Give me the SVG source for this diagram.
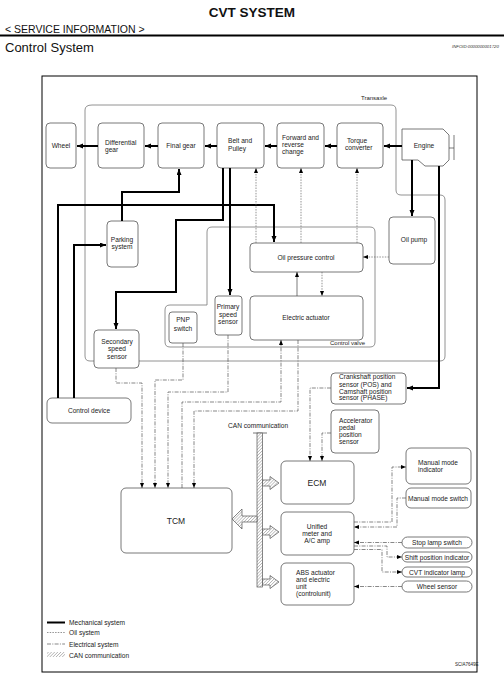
<svg xmlns="http://www.w3.org/2000/svg" width="504" height="680" viewBox="0 0 504 680">
<defs>
<style>
text{font-family:"Liberation Sans",Arial,sans-serif;font-size:6.6px;fill:#222}
.c{text-anchor:middle}
.box{fill:#fff;stroke:#555;stroke-width:0.8}
.outline{fill:none;stroke:#777;stroke-width:0.8}
.mech{fill:none;stroke:#000;stroke-width:2}
.oil{fill:none;stroke:#666;stroke-width:0.7;stroke-dasharray:1.5 1.2}
.elec{fill:none;stroke:#555;stroke-width:0.7;stroke-dasharray:4 1.3 1 1.3}
.thin{fill:none;stroke:#444;stroke-width:0.7}
.can{fill:url(#hatch);stroke:#555;stroke-width:0.7}
</style>
<marker id="ah" markerUnits="userSpaceOnUse" markerWidth="7" markerHeight="6" refX="6" refY="2.5" orient="auto">
<path d="M0,0 L6,2.5 L0,5 Z" fill="#000"/>
</marker>
<marker id="as" markerUnits="userSpaceOnUse" markerWidth="6" markerHeight="5" refX="5" refY="2" orient="auto">
<path d="M0,0 L5,2 L0,4 Z" fill="#000"/>
</marker>
<pattern id="hatch" patternUnits="userSpaceOnUse" width="2.2" height="2.2" patternTransform="rotate(45)">
<rect width="2.2" height="2.2" fill="#fff"/>
<line x1="0" y1="0" x2="0" y2="2.2" stroke="#777" stroke-width="0.8"/>
</pattern>
</defs>
<rect width="504" height="680" fill="#fff"/>

<g id="header">
<text x="252" y="17" class="c" style="font-size:13.5px;font-weight:bold;fill:#111">CVT SYSTEM</text>
<text x="5" y="33" style="font-size:10.5px;fill:#111">&lt; SERVICE INFORMATION &gt;</text>
<rect x="0" y="34.5" width="504" height="2" fill="#000"/>
<text x="5" y="52" style="font-size:13px;fill:#111">Control System</text>
<text x="452" y="48" style="font-size:4.3px;font-style:italic;fill:#333">INFOID:0000000001720</text>
</g>

<rect id="frame" x="42" y="76" width="435" height="596" fill="none" stroke="#000" stroke-width="1"/>

<g id="transaxle">
<path class="outline" d="M92,105 H391 Q396,105 396,110 V190 Q396,195 401,195 H440 Q445,195 445,200 V356 Q445,361 440,361 H90 Q85,361 85,356 V110 Q85,105 92,105 Z"/>
<text x="361" y="100" style="font-size:6px">Transaxle</text>
</g>

<g id="valve-unit">
<path class="outline" d="M212,227 H370 Q375,227 375,232 V342 Q375,347 370,347 H170 Q165,347 165,342 V310 Q165,305 170,305 H207 V232 Q207,227 212,227 Z"/>
<text x="365" y="345" style="font-size:6px;text-anchor:end">Control valve</text>
</g>

<g id="wheel"><rect class="box" x="46" y="123" width="30" height="45" rx="4"/><text x="61" y="148" class="c">Wheel</text></g>
<g id="differential"><rect class="box" x="98" y="123" width="46" height="45" rx="4"/><text x="105" y="145">Differential</text><text x="105" y="152">gear</text></g>
<g id="final-gear"><rect class="box" x="158" y="123" width="46" height="45" rx="4"/><text x="181" y="148" class="c">Final gear</text></g>
<g id="belt-pulley"><rect class="box" x="217" y="123" width="47" height="45" rx="4"/><text x="228" y="143">Belt and</text><text x="228" y="151">Pulley</text></g>
<g id="forward-reverse"><rect class="box" x="277" y="123" width="47" height="45" rx="4"/><text x="282" y="140">Forward and</text><text x="282" y="147">reverse</text><text x="282" y="154">change</text></g>
<g id="torque-converter"><rect class="box" x="337" y="123" width="46" height="45" rx="4"/><text x="347" y="143">Torque</text><text x="345" y="150">converter</text></g>
<g id="engine">
<path class="box" d="M402,129 H443 L449,135 V160 L443,166 H425 L418,160 H402 Z"/>
<path class="thin" d="M449,148 H454 M454,135 V160"/>
<text x="424" y="148" class="c">Engine</text>
</g>
<g id="oil-pump"><rect class="box" x="389" y="217" width="46" height="47" rx="4"/><text x="414" y="242" class="c">Oil pump</text></g>
<g id="oil-pressure-control"><rect class="box" x="250" y="243" width="113" height="29" rx="4"/><text x="306" y="260" class="c">Oil pressure control</text></g>
<g id="electric-actuator"><rect class="box" x="250" y="296" width="113" height="44" rx="4"/><text x="306" y="320" class="c">Electric actuator</text></g>
<g id="pnp-switch"><rect class="box" x="169" y="312" width="28" height="31" rx="3"/><text x="183" y="322" class="c">PNP</text><text x="183" y="331" class="c">switch</text></g>
<g id="primary-speed-sensor"><rect class="box" x="215" y="296" width="27" height="39" rx="3"/><text x="228" y="309" class="c">Primary</text><text x="228" y="317" class="c">speed</text><text x="228" y="324" class="c">sensor</text></g>
<g id="parking-system"><rect class="box" x="107" y="221" width="31" height="46" rx="4"/><text x="122" y="242" class="c">Parking</text><text x="122" y="249" class="c">system</text></g>
<g id="secondary-speed-sensor"><rect class="box" x="94" y="330" width="45" height="38" rx="4"/><text x="117" y="344" class="c">Secondary</text><text x="117" y="351" class="c">speed</text><text x="117" y="359" class="c">sensor</text></g>
<g id="control-device"><rect class="box" x="47" y="398" width="84" height="25" rx="5"/><text x="89" y="413" class="c">Control device</text></g>
<g id="crank-cam-sensor"><rect class="box" x="331" y="373" width="75" height="31" rx="4"/><text x="339" y="379">Crankshaft position</text><text x="339" y="387">sensor (POS) and</text><text x="339" y="394">Camshaft position</text><text x="339" y="400">sensor (PHASE)</text></g>
<g id="accelerator-sensor"><rect class="box" x="331" y="410" width="48" height="43" rx="4"/><text x="339" y="423">Accelerator</text><text x="339" y="430">pedal</text><text x="339" y="437">position</text><text x="339" y="444">sensor</text></g>
<g id="tcm"><rect class="box" x="121" y="488" width="111" height="65" rx="5"/><text x="176" y="524" class="c" style="font-size:8.5px">TCM</text></g>
<g id="ecm"><rect class="box" x="281" y="461" width="73" height="43" rx="5"/><text x="317" y="486" class="c" style="font-size:8.5px">ECM</text></g>
<g id="unified-meter"><rect class="box" x="281" y="512" width="73" height="43" rx="5"/><text x="317" y="529" class="c">Unified</text><text x="317" y="536" class="c">meter and</text><text x="317" y="543" class="c">A/C amp</text></g>
<g id="abs"><rect class="box" x="281" y="563" width="73" height="42" rx="5"/><text x="296" y="575">ABS actuator</text><text x="296" y="582">and electric</text><text x="296" y="589">unit</text><text x="296" y="596">(controlunit)</text></g>
<g id="manual-mode-indicator"><rect class="box" x="406" y="448" width="65" height="36" rx="5"/><text x="418" y="465">Manual mode</text><text x="418" y="472">indicator</text></g>
<g id="manual-mode-switch"><rect class="box" x="406" y="488" width="65" height="20" rx="5"/><text x="438" y="501" class="c">Manual mode switch</text></g>
<g id="stop-lamp-switch"><rect class="box" x="402" y="537" width="70" height="11" rx="5.5"/><text x="437" y="545" class="c">Stop lamp switch</text></g>
<g id="shift-position-indicator"><rect class="box" x="402" y="552" width="70" height="10" rx="5"/><text x="437" y="559.5" class="c">Shift position indicator</text></g>
<g id="cvt-indicator-lamp"><rect class="box" x="402" y="567" width="70" height="10" rx="5"/><text x="437" y="574.5" class="c">CVT indicator lamp</text></g>
<g id="wheel-sensor"><rect class="box" x="402" y="581" width="70" height="11" rx="5.5"/><text x="437" y="588.8" class="c">Wheel sensor</text></g>

<g id="can-bus">
<text x="228" y="428">CAN communication</text>
<path d="M253,433 H267" stroke="#555" stroke-width="0.8"/>
<rect class="can" x="257" y="433" width="5.5" height="154"/>
<path class="can" d="M257,516 H242 V509 L232,519 L242,529 V522 H257 Z"/>
<path class="can" d="M262.5,480 H270 V476.5 L279,483 L270,489.5 V486 H262.5 Z"/>
<path class="can" d="M262.5,529 H270 V525.5 L279,532 L270,538.5 V535 H262.5 Z"/>
<path class="can" d="M262.5,579 H270 V575.5 L279,582 L270,588.5 V585 H262.5 Z"/>
</g>

<g id="connectors">
<path class="mech" marker-end="url(#ah)" d="M402,146 H384"/>
<path class="mech" marker-end="url(#ah)" d="M337,146 H325"/>
<path class="mech" marker-end="url(#ah)" d="M277,146 H265"/>
<path class="mech" marker-end="url(#ah)" d="M217,146 H205"/>
<path class="mech" marker-end="url(#ah)" d="M158,146 H145"/>
<path class="mech" marker-end="url(#ah)" d="M98,146 H77"/>
<path class="mech" marker-end="url(#ah)" d="M412,160 V216"/>
<path class="mech" marker-end="url(#ah)" d="M439,166 V388 H407"/>
<path class="mech" marker-end="url(#ah)" d="M230,168 V295"/>
<path class="mech" marker-end="url(#ah)" d="M223,168 V220 H176 V292 H116 V329"/>
<path class="mech" marker-end="url(#ah)" d="M58,398 V205 H274 V242"/>
<path class="mech" marker-end="url(#ah)" d="M74,398 V245 H106"/>
<path class="mech" marker-end="url(#ah)" d="M122,221 V192 H179 V169"/>

<path class="oil" marker-end="url(#as)" d="M256,243 V168"/>
<path class="oil" marker-end="url(#as)" d="M301,243 V168"/>
<path class="oil" marker-end="url(#as)" d="M357,243 V168"/>
<path class="oil" marker-end="url(#as)" d="M389,257 H363"/>
<path class="oil" marker-end="url(#as)" d="M322,272 V296"/>
<path class="thin" marker-end="url(#as)" d="M297,296 V272"/>

<path class="elec" marker-end="url(#as)" d="M116,368 V383 H142 V488"/>
<path class="elec" marker-end="url(#as)" d="M183,343 V380 H155 V488"/>
<path class="elec" marker-end="url(#as)" d="M228,335 V392 H168 V488"/>
<path class="elec" marker-end="url(#as)" d="M182,488 V402 H281 V340"/>
<path class="elec" marker-end="url(#as)" d="M298,340 V411 H194 V488"/>
<path class="elec" marker-end="url(#as)" d="M331,388 H310 V461"/>
<path class="elec" marker-end="url(#as)" d="M331,433 H322 V461"/>
<path class="elec" marker-end="url(#as)" d="M354,522 H392 V467 H406"/>
<path class="elec" marker-end="url(#as)" d="M406,498 H397 V527 H354"/>
<path class="elec" marker-end="url(#as)" d="M402,542.5 H354"/>
<path class="elec" marker-end="url(#as)" d="M354,546 H387 V557 H402"/>
<path class="elec" marker-end="url(#as)" d="M354,549.5 H382 V572 H402"/>
<path class="elec" marker-end="url(#as)" d="M402,586.5 H354"/>
</g>

<g id="legend">
<path class="mech" d="M47,622.5 H65"/>
<path class="oil" d="M47,632.5 H65"/>
<path class="elec" d="M47,644 H65"/>
<rect class="can" x="47" y="652" width="18" height="5" style="stroke:none"/>
<text x="69" y="625">Mechanical system</text>
<text x="69" y="635">Oil system</text>
<text x="69" y="646.5">Electrical system</text>
<text x="69" y="657.5">CAN communication</text>
</g>
<text x="455" y="666" style="font-size:4.5px">SCIA7649E</text>
</svg>
